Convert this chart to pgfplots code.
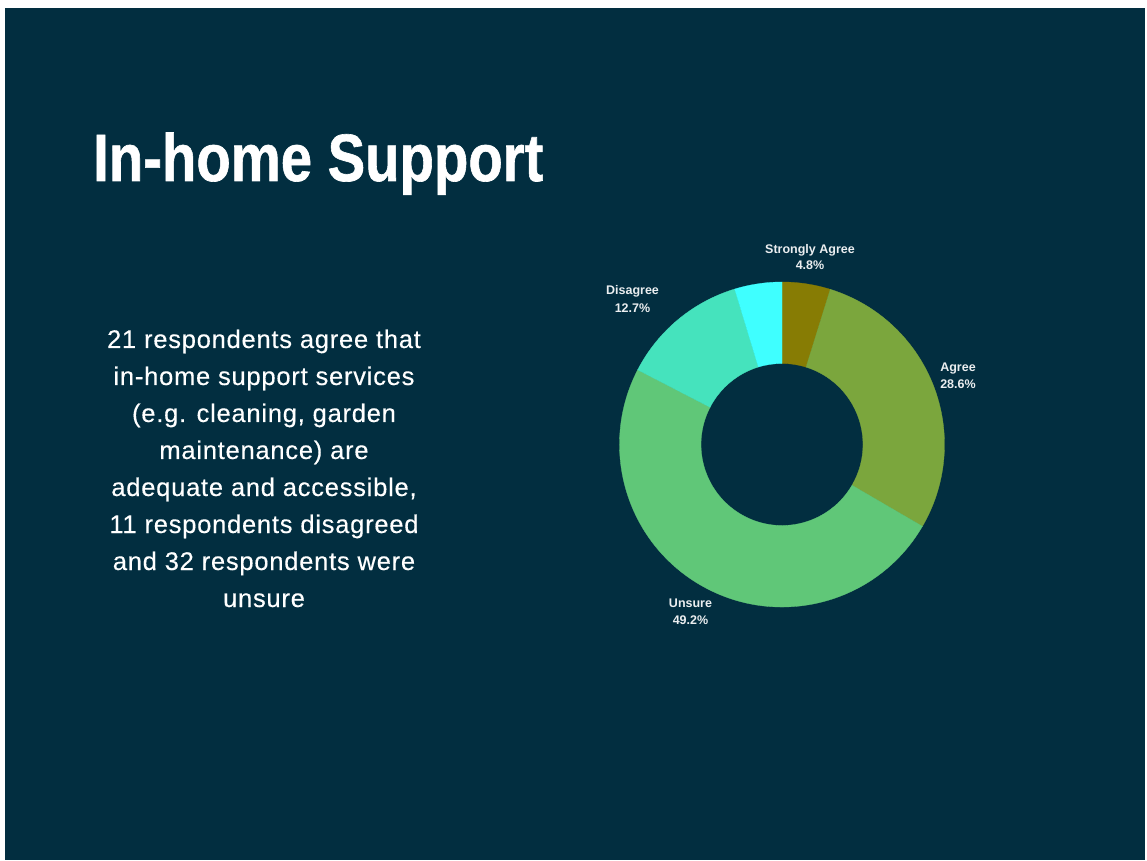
\documentclass[border=0pt]{standalone}
\usepackage{pgfplots}
\pgfplotsset{compat=1.18}
\usepackage{pgfplotstable}
\usepackage{graphicx}
\usepackage{fontspec}
\setmainfont{Liberation Sans}
\newfontfamily\bodyfont{Liberation Sans}[LetterSpace=3, FakeBold=0.3]
\newfontfamily\titlefont{Liberation Sans}[FakeBold=1.0]
\definecolor{bg}{HTML}{022E40}
\definecolor{c0}{HTML}{877C04}
\definecolor{c1}{HTML}{7BA63D}
\definecolor{c2}{HTML}{60C778}
\definecolor{c3}{HTML}{45E3BD}
\definecolor{c4}{HTML}{3FFFFF}
% share of respondents (%), clockwise from the top
\pgfplotstableread{
pct
4.8
28.6
49.2
12.7
4.7
}\donut
\begin{document}
\begin{tikzpicture}
\begin{axis}[hide axis, scale only axis, width=1147pt, height=860pt,
  xmin=0, xmax=1147, ymin=0, ymax=860, clip=false]
\fill[white] (axis cs:0,0) rectangle (axis cs:1147,860);
\fill[bg] (axis cs:5,0) rectangle (axis cs:1145,852);
\pgfplotstablegetrowsof{\donut}
\pgfmathtruncatemacro\N{\pgfplotsretval-1}
\def\cum{0}
\pgfplotsforeachungrouped \i in {0,...,\N}{%
  \pgfplotstablegetelem{\i}{pct}\of\donut
  \pgfmathsetmacro\a{90-3.6*\cum}%
  \pgfmathsetmacro\b{90-3.6*(\cum+\pgfplotsretval)}%
  \pgfmathsetmacro\cum{\cum+\pgfplotsretval}%
  \edef\temp{\noexpand\fill[c\i, draw=c\i, line width=0.3pt, shift={(axis cs:782,415.5)}] (\a:162.5pt) arc[start angle=\a, end angle=\b, radius=162.5pt] -- (\b:81pt) arc[start angle=\b, end angle=\a, radius=81pt] -- cycle;}%
  \temp
}
% title
\node[anchor=base west, inner sep=0pt, text=white, font=\fontsize{67}{67}\titlefont\bfseries]
  at (axis cs:93,679) {\scalebox{0.84}[1]{In-home Support}};
% body text
\begin{scope}[every node/.style={anchor=base, inner sep=0pt, text=white, font=\fontsize{25.5}{30}\bodyfont}]
\node at (axis cs:264,512) {21 respondents agree that};
\node at (axis cs:264,475) {in-home support services};
\node at (axis cs:264,438) {(e.g. cleaning, garden};
\node at (axis cs:264,401) {maintenance) are};
\node at (axis cs:264,364) {adequate and accessible,};
\node at (axis cs:264,327) {11 respondents disagreed};
\node at (axis cs:264,290) {and 32 respondents were};
\node at (axis cs:264,253) {unsure};
\end{scope}
% slice labels
\begin{scope}[every node/.style={anchor=base, inner sep=0pt, text=white!92!bg, font=\fontsize{12.5}{14}\selectfont\bfseries}]
\node at (axis cs:810,606) {Strongly Agree};
\node at (axis cs:810,590) {4.8\%};
\node at (axis cs:958,488) {Agree};
\node at (axis cs:958,471) {28.6\%};
\node at (axis cs:632.5,565) {Disagree};
\node at (axis cs:632.5,547.5) {12.7\%};
\node at (axis cs:690.5,253) {Unsure};
\node at (axis cs:690.5,236) {49.2\%};
\end{scope}
\end{axis}
\end{tikzpicture}
\end{document}
